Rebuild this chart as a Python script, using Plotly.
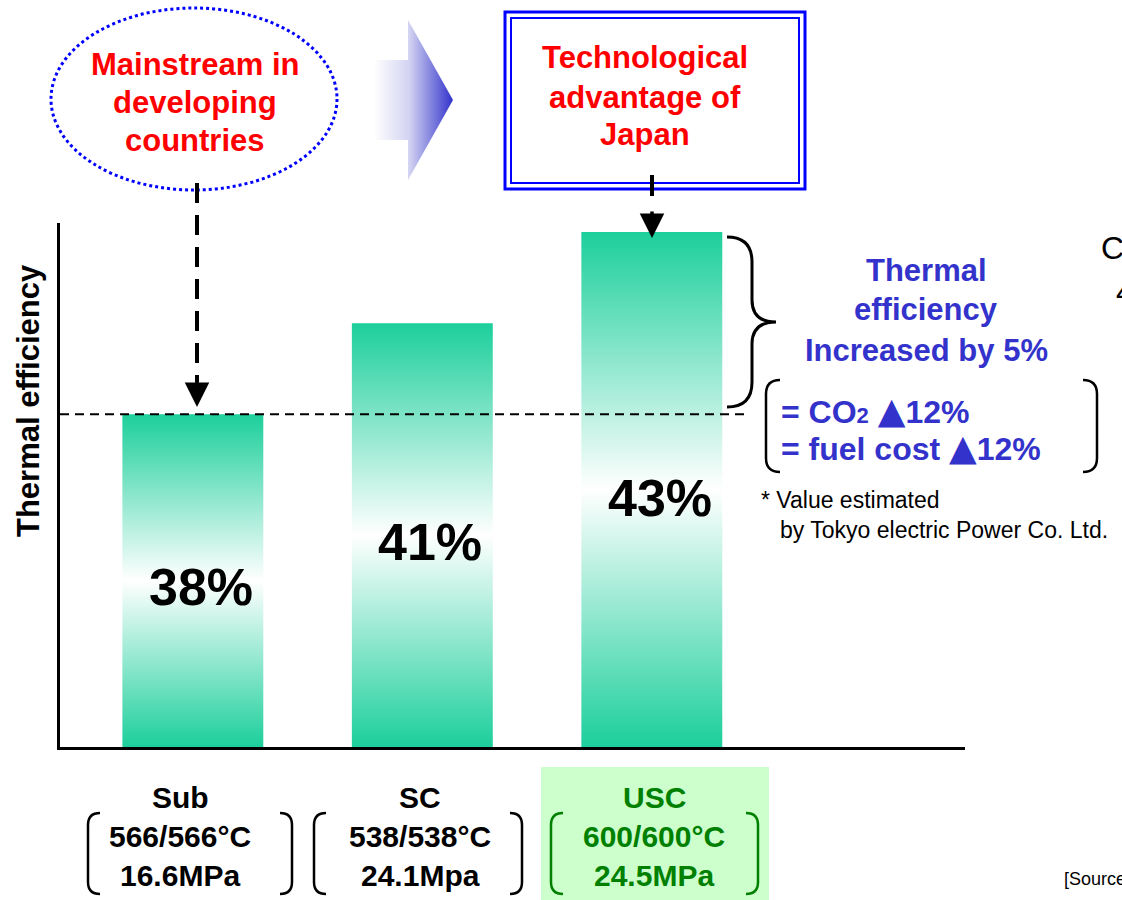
import plotly.graph_objects as go

# ---------------- data ----------------
categories = ["Sub", "SC", "USC"]
efficiency_pct = [38, 41, 43]
bar_height_drawn = [3.65, 4.65, 5.65]          # schematic bar heights as drawn (arbitrary units)
conditions_temp = ["566/566°C", "538/538°C", "600/600°C"]
conditions_pressure = ["16.6MPa", "24.1Mpa", "24.5MPa"]
y_title = "Thermal efficiency"

# ---------------- style ----------------
W, H = 1122, 900
FONT = "Arial, 'Liberation Sans', Helvetica, sans-serif"
BAR_GREEN = "#1ccf9b"
RED = "#ff0000"
BLUE = "#0000ff"
BLUE_T = "#3333cc"
DKGREEN = "#008000"

fig = go.Figure()

# gradient bars (filled polygons built from the data through the main axes)
bar_w = 0.614
for i, (c, h) in enumerate(zip(categories, bar_height_drawn)):
    x0, x1 = i - bar_w / 2, i + bar_w / 2
    fig.add_trace(go.Scatter(
        x=[x0, x1, x1, x0, x0], y=[0, 0, h, h, 0],
        mode="lines", line=dict(width=0, color=BAR_GREEN), fill="toself",
        fillgradient=dict(type="vertical",
                          colorscale=[[0, BAR_GREEN], [0.5, "#ffffff"], [1, BAR_GREEN]]),
        hoverinfo="skip", showlegend=False, name=c, xaxis="x", yaxis="y"))

# gradient chevron arrow (pixel overlay axes)
fig.add_trace(go.Scatter(
    x=[374, 408, 408, 453, 408, 408, 374, 374],
    y=[60, 60, 20, 100, 180, 140, 140, 60],
    mode="lines", line=dict(width=0, color="#3333cc"), fill="toself",
    fillgradient=dict(type="horizontal",
                      colorscale=[[0, "#ffffff"], [0.45, "#d2d2f2"], [1, "#3333cc"]]),
    hoverinfo="skip", showlegend=False, xaxis="x2", yaxis="y2"))

shapes = []
ann = []


def P(**kw):
    d = dict(xref="x2", yref="y2")
    d.update(kw)
    return d


def text(x, y, s, size=31, color="black", bold=True, xanchor="center", angle=0):
    ann.append(dict(xref="x2", yref="y2", x=x, y=y, text=s, showarrow=False,
                    xanchor=xanchor, yanchor="middle", textangle=angle,
                    font=dict(family=FONT, size=size, color=color,
                              weight="bold" if bold else "normal")))


# ellipse + text
shapes.append(P(type="circle", x0=51, x1=337, y0=8, y1=190,
                line=dict(color=BLUE, width=3, dash="dot")))
for y, s in zip([64, 102, 140], ["Mainstream in", "developing", "countries"]):
    text(195, y, s, color=RED)

# double box + text
shapes.append(P(type="rect", x0=505, x1=805, y0=12, y1=189, line=dict(color=BLUE, width=3)))
shapes.append(P(type="rect", x0=511, x1=799, y0=18, y1=183, line=dict(color=BLUE, width=2)))
for y, s in zip([57, 97, 134], ["Technological", "advantage of", "Japan"]):
    text(645, y, s, color=RED)

# dashed arrow lines
shapes.append(P(type="line", x0=197, x1=197, y0=183, y1=382,
                line=dict(color="black", width=4, dash="20px,12px")))
shapes.append(P(type="line", x0=652, x1=652, y0=175, y1=196,
                line=dict(color="black", width=4)))
for x, y in [(197, 407), (652, 238)]:
    ann.append(dict(xref="x2", yref="y2", x=x, y=y, ax=0, ay=-28, text="",
                    showarrow=True, arrowhead=2, arrowsize=1.4, arrowwidth=3.5,
                    arrowcolor="black", standoff=0))

# reference dashed line at first bar's height
shapes.append(dict(type="line", xref="x2", yref="y", x0=60, x1=748,
                   y0=bar_height_drawn[0], y1=bar_height_drawn[0],
                   line=dict(color="black", width=2, dash="9px,6px")))

# curly brace
shapes.append(P(type="path",
                path="M 727,237 Q 752,237 752,262 L 752,300 Q 752,322 776,322 "
                     "Q 752,322 752,344 L 752,382 Q 752,407 727,407",
                line=dict(color="black", width=3)))


def brackets(xl, xr, yt, yb, color, width=2.5, r=12, d=12):
    shapes.append(P(type="path",
                    path=f"M {xl+d},{yt} Q {xl},{yt} {xl},{yt+r} L {xl},{yb-r} Q {xl},{yb} {xl+d},{yb}",
                    line=dict(color=color, width=width)))
    shapes.append(P(type="path",
                    path=f"M {xr-d},{yt} Q {xr},{yt} {xr},{yt+r} L {xr},{yb-r} Q {xr},{yb} {xr-d},{yb}",
                    line=dict(color=color, width=width)))


TRI = "<span style='font-family:DejaVu Sans;font-size:36px'>▲</span>"

# blue text block
for y, s in zip([270, 309, 350], ["Thermal", "efficiency", "Increased by 5%"]):
    text(926, y, s, color=BLUE_T)
brackets(766, 1097, 380, 472, "black", width=2.5, r=14, d=14)
text(779, 410, "= CO<span style='font-size:22px'>2</span> " + TRI + "12%", size=32,
     color=BLUE_T, xanchor="left")
text(779, 447, "= fuel cost " + TRI + "12%", size=32, color=BLUE_T, xanchor="left")
text(759, 500, "* Value estimated", size=23, bold=False, xanchor="left")
text(778, 530, "by Tokyo electric Power Co. Ltd.", size=23, bold=False, xanchor="left")

# y-axis title
text(28, 401, y_title, angle=-90)

# value labels inside bars
for i, (v, h) in enumerate(zip(efficiency_pct, bar_height_drawn)):
    ann.append(dict(xref="x", yref="y", x=i, y=h * 0.49, xshift=8, yshift=-3, text=f"{v}%",
                    showarrow=False, xanchor="center", yanchor="middle",
                    font=dict(family=FONT, size=52, color="black", weight="bold")))

# category labels below the axis
shapes.append(P(type="rect", x0=541, x1=769, y0=767, y1=900, fillcolor="#ccffcc",
                line=dict(width=0), layer="below"))
label_cx = [180, 420, 654]
label_col = ["black", "black", DKGREEN]
bracket_x = [(88, 292), (314, 522), (551, 758)]
for i, c in enumerate(categories):
    col = label_col[i]
    text(label_cx[i], 797, c, size=30, color=col)
    text(label_cx[i], 836, conditions_temp[i], size=30, color=col)
    text(label_cx[i], 875, conditions_pressure[i], size=30, color=col)
    brackets(bracket_x[i][0], bracket_x[i][1], 813, 894, col, width=2.5)

# text cut off at the right edge of the original slide
text(1099, 248, "CO", size=32, bold=False, xanchor="left")
text(1114, 292, "4", size=32, bold=False, xanchor="left")
text(1062, 879, "[Source", size=18, bold=False, xanchor="left")

fig.update_layout(
    width=W, height=H, margin=dict(l=0, r=0, t=0, b=0),
    paper_bgcolor="white", plot_bgcolor="rgba(0,0,0,0)",
    showlegend=False, shapes=shapes, annotations=ann,
    xaxis=dict(domain=[60 / W, 965 / W], range=[-0.5788, 3.3646],
               showline=True, linewidth=3, linecolor="black", showgrid=False,
               zeroline=False, showticklabels=False, ticks="", fixedrange=True),
    yaxis=dict(domain=[1 - 747 / H, 1 - 223 / H], range=[0, 5.75],
               showline=True, linewidth=3, linecolor="black", showgrid=False,
               zeroline=False, showticklabels=False, ticks="", fixedrange=True),
    xaxis2=dict(domain=[0, 1], range=[0, W], visible=False, anchor="y2", fixedrange=True),
    yaxis2=dict(domain=[0, 1], range=[H, 0], visible=False, anchor="x2", fixedrange=True),
)

fig.write_html("out.html", config={"displayModeBar": False},
               post_script="document.body.style.margin='0';document.body.style.overflow='hidden';")
